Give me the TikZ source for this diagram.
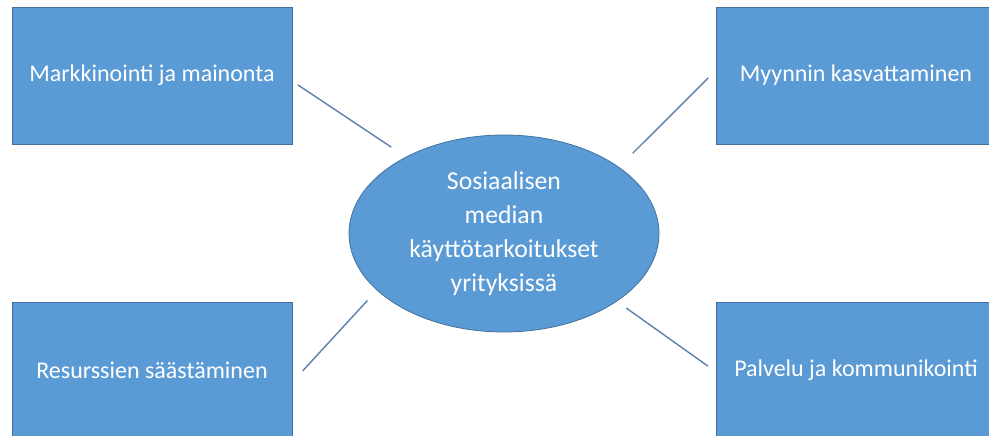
\documentclass[tikz,border=0pt]{standalone}
\usepackage{fontspec}
\setmainfont{Carlito}
\usetikzlibrary{
  shapes.geometric
}
\definecolor{boxfill}{HTML}{5B9BD5}
\definecolor{boxedge}{HTML}{41719C}
\definecolor{linkcolor}{RGB}{92,128,170}
\tikzset{
  % For the four corner boxes.
  topic box/.style={
    draw=boxedge,
    line width=0.8pt,
    fill=boxfill,
    minimum width=280pt,
    minimum height=137pt,
    inner sep=0pt,
    outer sep=0pt,
    text=white,
    font=\fontsize{24}{29}\selectfont},
%
  % For the central ellipse.
  hub/.style={
    ellipse,
    draw=boxedge,
    line width=0.8pt,
    fill=boxfill,
    minimum width=310pt,
    minimum height=197pt,
    inner sep=0pt,
    outer sep=0pt,
    text=white,
    align=center,
    font=\fontsize{25.7}{34}\selectfont},
%
  % For the plain connectors.
  link/.style={
    draw=linkcolor,
    line width=1.4pt},
}
\begin{document}
\begin{tikzpicture}[x=1pt,y=1pt]
  \useasboundingbox (0,0) rectangle (989,436);
  \clip (0,0) rectangle (989,436);

  \node[hub] (goal) at (504,202.5)
    {Sosiaalisen\\median\\käyttötarkoitukset\\yrityksissä};

  \node[topic box] (marketing) at (152,360.5) {Markkinointi ja mainonta};
  \node[topic box] (sales) at (856,360.5) {Myynnin kasvattaminen};
  \node[topic box] (saving) at (152,65.5) {Resurssien säästäminen};
  \node[topic box] (service) at (856,65.5) {Palvelu ja kommunikointi};

  \draw[link, shorten <=7pt, shorten >=18pt]
    ([yshift=-5.5pt]marketing.east) -- (goal.142.3);
  \draw[link, shorten <=11pt, shorten >=19.7pt]
    ([yshift=5.4pt]sales.west) -- (goal.30.3);
  \draw[link, shorten <=15.9pt, shorten >=14.3pt]
    ([yshift=-12pt]saving.east) -- (goal.204.9);
  \draw[link, shorten <=9.9pt, shorten >=11.9pt]
    ([yshift=-1.4pt]service.west) -- (goal.329.9);
\end{tikzpicture}
\end{document}
